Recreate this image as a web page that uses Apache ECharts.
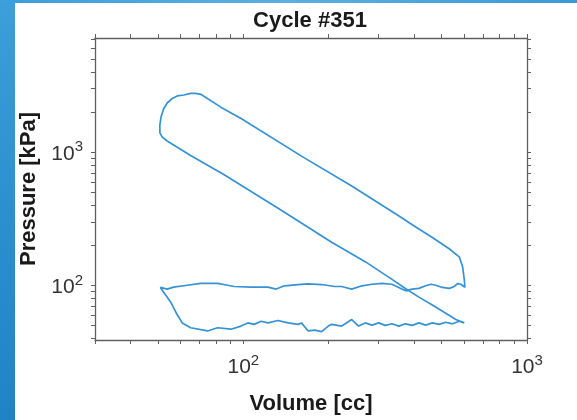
<!DOCTYPE html>
<html>
<head>
<meta charset="utf-8">
<script src="https://cdn.jsdelivr.net/npm/echarts@6/dist/echarts.min.js"></script>
<style>
html, body { margin: 0; padding: 0; background: #fff; }
#main { width: 577px; height: 420px; }
</style>
</head>
<body>
<div id="main"></div>
<script>
// cycle traced in order: exhaust, intake, compression, combustion, expansion
var volume = [604, 585, 569, 554, 532, 503, 477, 458, 439, 416, 394, 373, 353, 334, 308, 284, 262, 241, 222, 210,
    189, 169, 156, 139.5, 130.6, 122.1, 106.5, 92.7, 88.1, 81.1, 70.8, 63.5, 56.8, 53.9, 51.0,
    55.4, 58.5, 60.9, 65.2, 74.8, 81.1, 90.5, 98.2, 103.7, 109.1, 115.6, 122.1, 132.5, 143.8, 156, 160.3,
    169.3, 178.7, 188.7, 199.4, 204.8, 222.2, 241.1, 254.8, 268.9, 284, 300, 316.6, 334.4, 353.3, 372.8,
    393.8, 416, 439.1, 463.8, 490, 517.1, 546.2, 576.9, 601,
    561.1, 517.1, 463.8, 416, 368, 334.4, 268.9, 204.8, 136.1, 85.6, 65.2, 53.9, 51.8,
    50.8, 50.8, 51.3, 52.4, 53.9, 56.2, 58.5, 61.7, 65.2, 67.9, 70.8, 83.3, 98.2,
    160.3, 241.1, 362.9, 393.8, 463.8, 531.7, 576.9, 592.7, 601, 604];
var pressure = [96.7, 102.2, 103.4, 98.3, 95.1, 96.7, 100.5, 102.2, 99.5, 95.1, 94.0, 91.5, 96.7, 102.2, 103.9, 102.2, 99.5, 94.0, 98.3, 98.3,
    101.7, 102.9, 101.7, 99.5, 94.0, 97.2, 97.2, 98.3, 100.5, 103.9, 103.9, 100.5, 97.2, 94.0, 96.7,
    75.3, 60.3, 52.4, 48.2, 45.6, 48.2, 47.0, 49.6, 52.4, 51.1, 53.9, 52.4, 54.6, 52.4, 51.1, 52.4,
    45.6, 46.2, 45.1, 49.6, 51.1, 49.6, 55.5, 49.6, 52.4, 50.4, 52.4, 50.2, 51.6, 49.6, 51.6,
    50.2, 52.4, 50.4, 52.4, 51.1, 53.0, 51.6, 53.9, 52.4,
    55.5, 61.9, 71.3, 81.8, 96.7, 111.1, 151, 210.9, 367.4, 677.9, 946.4, 1215, 1300,
    1396, 1604, 1845, 2119, 2342, 2532, 2645, 2689, 2767, 2767, 2722, 2180, 1794,
    935.5, 557.6, 321.5, 286.1, 229.1, 188.6, 164.1, 138.9, 111.1, 96.7];

var xTicks = [30, 40, 50, 60, 70, 80, 90, 100, 200, 300, 400, 500, 600, 700, 800, 900, 1000];
var yTicks = [40, 50, 60, 70, 80, 90, 100, 200, 300, 400, 500, 600, 700, 800, 900, 1000,
    2000, 3000, 4000, 5000, 6000, 7000];
var xLabels = [100, 1000];
var yLabels = [100, 1000];

var myChart = echarts.init(document.getElementById('main'));

var axisColor = '#606060';
var fontName = '"Liberation Sans", Arial, sans-serif';

function powLabel(v) {
    return '{b|10}{s|' + Math.round(Math.log10(v)) + '}';
}
var labelRich = {
    b: { fontSize: 21, fontFamily: fontName, color: '#333', lineHeight: 25, verticalAlign: 'bottom' },
    s: { fontSize: 15, fontFamily: fontName, color: '#333', lineHeight: 15, verticalAlign: 'top' }
};

function makeAxis(pos, ticks, labels, extra) {
    var ax = {
        type: 'log',
        position: pos,
        axisLine: { show: true, lineStyle: { color: axisColor, width: 1.3 } },
        axisTick: { show: true, inside: false, length: 4, customValues: ticks, lineStyle: { color: axisColor, width: 1 } },
        axisLabel: { show: false },
        splitLine: { show: false },
        minorTick: { show: false }
    };
    if (labels) {
        ax.axisLabel = { show: true, customValues: labels, formatter: powLabel, rich: labelRich,
            margin: pos === 'bottom' ? 13 : 12 };
    }
    for (var k in extra) ax[k] = extra[k];
    return ax;
}

var option = {
    animation: false,
    backgroundColor: '#fff',
    grid: { left: 95, right: 50, top: 38, bottom: 62, containLabel: false },
    xAxis: [
        makeAxis('bottom', xTicks, xLabels, {
            min: 30, max: 1000,
            name: 'Volume [cc]', nameLocation: 'middle', nameGap: 53,
            nameTextStyle: { fontSize: 22, fontWeight: 'bold', fontFamily: fontName, color: '#1a1a1a' }
        }),
        makeAxis('top', xTicks, null, { min: 30, max: 1000 })
    ],
    yAxis: [
        makeAxis('left', yTicks, yLabels, {
            min: 39, max: 7200,
            name: 'Pressure [kPa]', nameLocation: 'middle', nameGap: 55,
            nameTextStyle: { fontSize: 22, fontWeight: 'bold', fontFamily: fontName, color: '#1a1a1a' }
        }),
        makeAxis('right', yTicks, null, { min: 39, max: 7200 })
    ],
    graphic: [
        {
            type: 'rect', shape: { x: 0, y: 0, width: 15, height: 420 },
            style: { fill: new echarts.graphic.LinearGradient(0, 0, 0, 1, [
                { offset: 0, color: '#3c9fda' }, { offset: 0.5, color: '#2b90d0' }, { offset: 1, color: '#1f84c6' }]) }
        },
        {
            type: 'rect', shape: { x: 0, y: 0, width: 577, height: 3 },
            style: { fill: new echarts.graphic.LinearGradient(0, 0, 1, 0, [
                { offset: 0, color: '#3c9fda' }, { offset: 0.5, color: '#5ab0e0' }, { offset: 1, color: '#3a9ad6' }]) }
        },
        {
            type: 'text', x: 310, y: 21,
            style: { text: 'Cycle #351', font: 'bold 22px "Liberation Sans", Arial, sans-serif',
                fill: '#1a1a1a', align: 'center', verticalAlign: 'middle' }
        }
    ],
    series: [
        {
            name: 'cycle',
            type: 'line',
            xAxisIndex: 0,
            yAxisIndex: 0,
            showSymbol: false,
            smooth: false,
            lineStyle: { color: '#3592d4', width: 1.7 },
            data: volume.map(function (v, i) { return [v, pressure[i]]; })
        }
    ]
};
myChart.setOption(option);
</script>
</body>
</html>
